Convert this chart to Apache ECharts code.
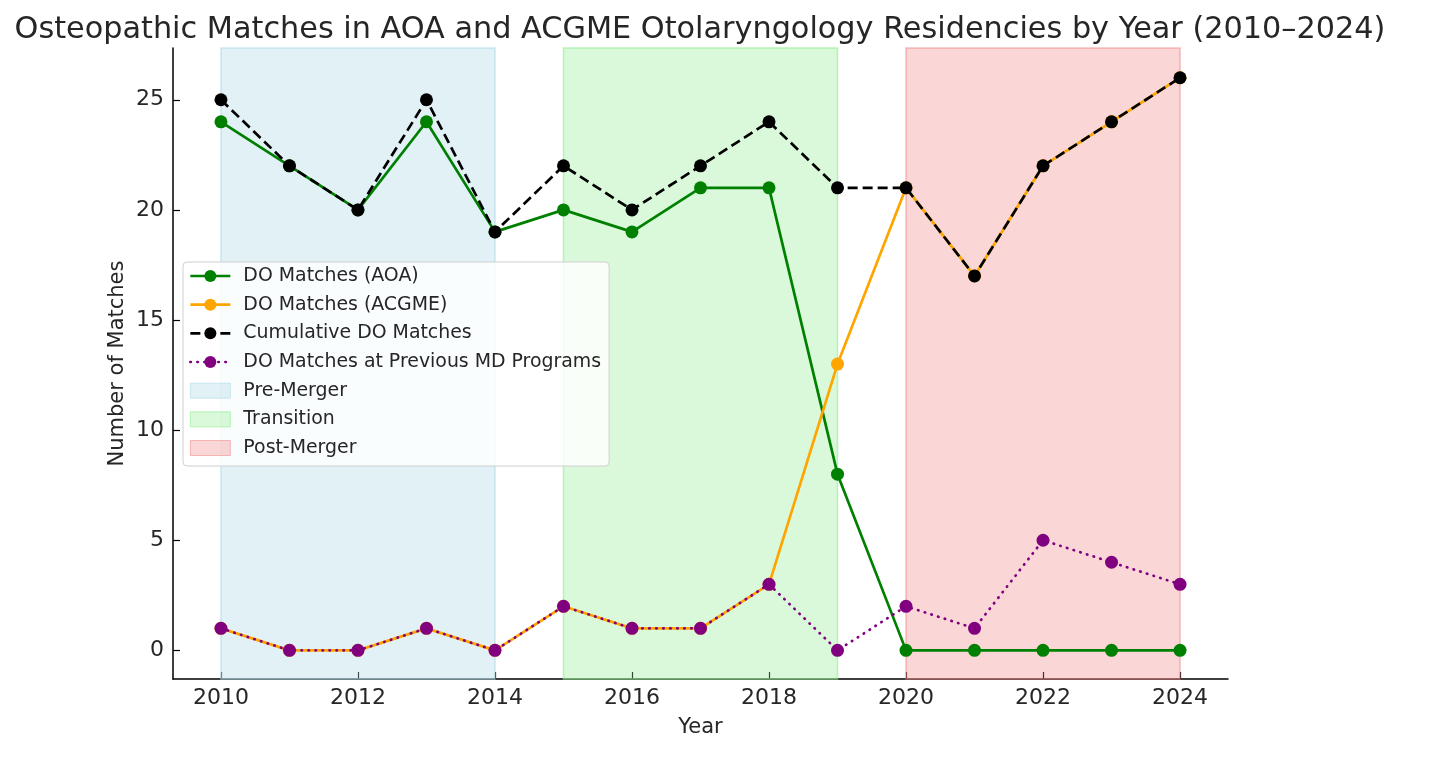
<!DOCTYPE html>
<html>
<head>
<meta charset="utf-8">
<script src="https://cdn.jsdelivr.net/npm/echarts@6/dist/echarts.min.js"></script>
<style>html,body{margin:0;padding:0;background:#fff;}#c{width:1431px;height:761px;}</style>
</head>
<body>
<div id="c"></div>
<script>
const years = [2010,2011,2012,2013,2014,2015,2016,2017,2018,2019,2020,2021,2022,2023,2024];
const aoa = [24,22,20,24,19,20,19,21,21,8,0,0,0,0,0];
const acgme = [1,0,0,1,0,2,1,1,3,13,21,17,22,24,26];
const cumulative = [25,22,20,25,19,22,20,22,24,21,21,17,22,24,26];
const mdPrev = [1,0,0,1,0,2,1,1,3,0,2,1,5,4,3];
const xTicks = [2010,2012,2014,2016,2018,2020,2022,2024];
const yTicks = [0,5,10,15,20,25];
const periodNames = ['Pre-Merger','Transition','Post-Merger'];
const periodStart = [2010,2015,2020];
const periodEnd = [2014,2019,2024];

const font = 'DejaVu Sans';
const txt = '#262626';
const periodColors = ['rgba(173,216,230,0.35)','rgba(144,238,144,0.33)','rgba(240,128,128,0.32)'];
const periodBorders = ['rgba(173,216,230,0.6)','rgba(144,238,144,0.6)','rgba(240,128,128,0.5)'];

function pairs(vals){ return years.map((y,i)=>[y, vals[i]]); }

const lineDefs = [
  {name:'DO Matches (AOA)', data:aoa, color:'#008000', type:'solid', cap:'butt'},
  {name:'DO Matches (ACGME)', data:acgme, color:'#FFA500', type:'solid', cap:'butt'},
  {name:'Cumulative DO Matches', data:cumulative, color:'#000000', type:[10,5], cap:'butt'},
  {name:'DO Matches at Previous MD Programs', data:mdPrev, color:'#800080', type:[0.5,6.5], cap:'round'}
];

const series = [];
periodNames.forEach((n,i)=>{
  series.push({
    name:n, type:'line', data:[], z:1, silent:true,
    itemStyle:{color:periodColors[i]},
    markArea:{silent:true, itemStyle:{color:periodColors[i], borderColor:periodBorders[i], borderWidth:1.5},
      data:[[{xAxis:periodStart[i]},{xAxis:periodEnd[i]}]]}
  });
});
lineDefs.forEach((d,i)=>{
  series.push({
    name:d.name, type:'line', data:pairs(d.data), z:3+i,
    symbol:'circle', symbolSize:13, showAllSymbol:true,
    lineStyle:{color:d.color, width:2.7, type:d.type, cap:d.cap},
    itemStyle:{color:d.color},
    emphasis:{disabled:true}, animation:false
  });
});

const legendData = lineDefs.map(d=>({name:d.name})).concat(periodNames.map((n,i)=>({
  name:n, icon:'rect', itemStyle:{color:periodColors[i], borderColor:periodBorders[i], borderWidth:1}
})));

const chart = echarts.init(document.getElementById('c'));
chart.setOption({
  animation:false,
  backgroundColor:'#fff',
  title:{text:'Osteopathic Matches in AOA and ACGME Otolaryngology Residencies by Year (2010–2024)',
    left:695, textAlign:'center', top:10,
    textStyle:{fontFamily:font, fontSize:30.3, fontWeight:'normal', color:txt}},
  grid:{left:173, right:203, top:48, bottom:82},
  legend:{
    orient:'vertical', left:183, top:262, data:legendData,
    itemWidth:40, itemHeight:15, itemGap:8.67,
    padding:[4,8,8,6],
    lineStyle:{width:2.7},
    backgroundColor:'rgba(255,255,255,0.82)', borderColor:'#d0d0d0', borderWidth:1, borderRadius:4,
    textStyle:{fontFamily:font, fontSize:18.9, lineHeight:20, color:txt, padding:[0,0,0,8]},
    selectedMode:false
  },
  xAxis:{
    type:'value', min:2009.3, max:2024.7,
    name:'Year', nameLocation:'middle', nameGap:38, nameMoveOverlap:false,
    nameTextStyle:{fontFamily:font, fontSize:21, color:txt},
    axisLine:{onZero:false, lineStyle:{color:'#000', width:1.5}},
    axisTick:{show:true, inside:true, length:7, lineStyle:{color:'#000', width:1.2}, customValues:xTicks},
    axisLabel:{fontFamily:font, fontSize:22, color:txt, margin:8, customValues:xTicks, formatter:v=>String(v)},
    splitLine:{show:false}
  },
  yAxis:{
    type:'value', min:-1.3, max:27.35,
    name:'Number of Matches', nameLocation:'middle', nameGap:45, nameRotate:90, nameMoveOverlap:false,
    nameTextStyle:{fontFamily:font, fontSize:21, color:txt},
    axisLine:{show:true, lineStyle:{color:'#000', width:1.5}},
    axisTick:{show:true, inside:true, length:7, lineStyle:{color:'#000', width:1.2}, customValues:yTicks},
    axisLabel:{fontFamily:font, fontSize:22, color:txt, margin:9, customValues:yTicks},
    splitLine:{show:false}
  },
  series:series
});
</script>
</body>
</html>
